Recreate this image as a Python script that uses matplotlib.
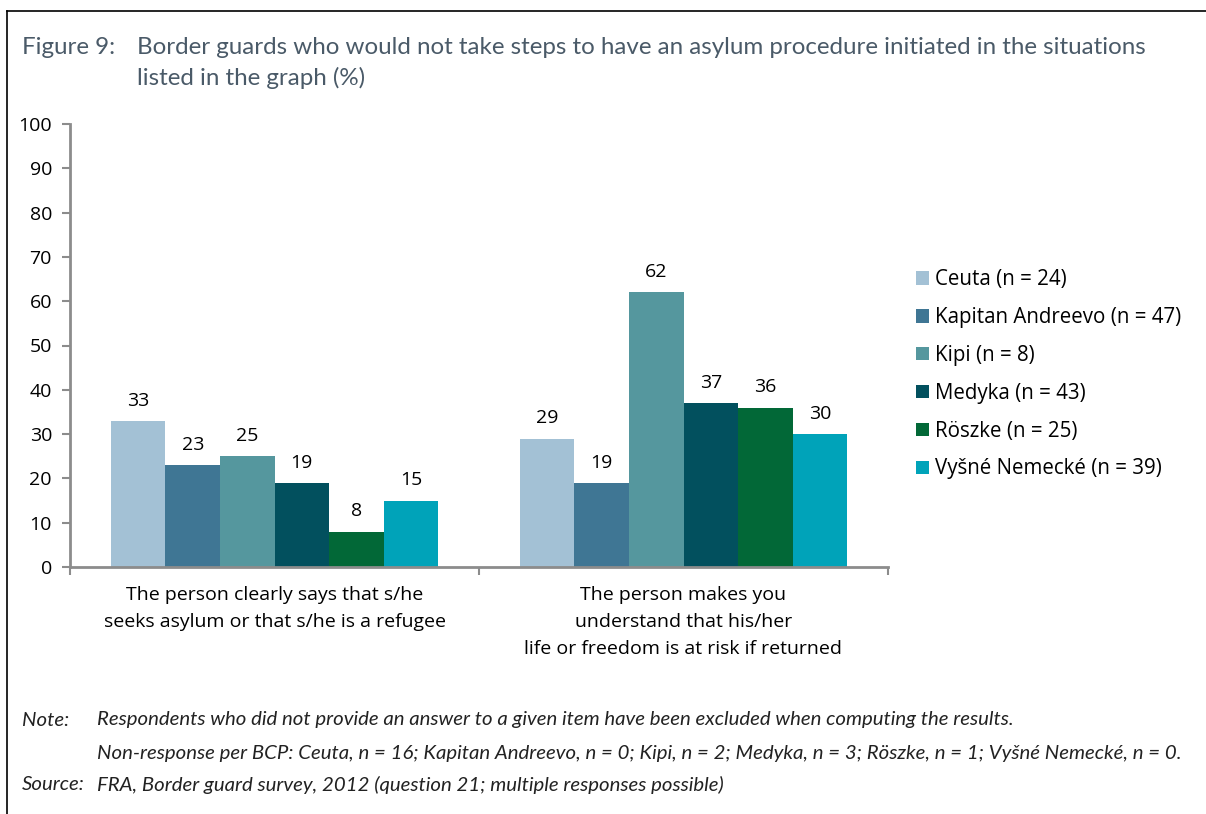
import matplotlib
matplotlib.use("Agg")
import matplotlib.pyplot as plt
import numpy as np
from matplotlib import font_manager

categories = ["The person clearly says that s/he\nseeks asylum or that s/he is a refugee",
              "The person makes you\nunderstand that his/her\nlife or freedom is at risk if returned"]
series_names = ["Ceuta (n = 24)", "Kapitan Andreevo (n = 47)", "Kipi (n = 8)",
                "Medyka (n = 43)", "Röszke (n = 25)", "Vyšné Nemecké (n = 39)"]
ceuta = [33, 29]
kapitan = [23, 19]
kipi = [25, 62]
medyka = [19, 37]
roszke = [8, 36]
vysne = [15, 30]
colors = ["#a3c1d5", "#3f7694", "#55979e", "#02505e", "#026837", "#00a3b9"]
yticks = [0, 10, 20, 30, 40, 50, 60, 70, 80, 90, 100]

names = {f.name for f in font_manager.fontManager.ttflist}
cond = "Liberation Sans Narrow" if "Liberation Sans Narrow" in names else "Lato"
body = "Open Sans"
bsize = 14

W, H = 1206, 814
fig = plt.figure(figsize=(W / 100, H / 100), dpi=100)

def fx(x): return x / W
def fy(y): return 1 - y / H

ax = fig.add_axes([fx(70), fy(567), fx(888) - fx(70), fy(124) - fy(567)])
all_series = [ceuta, kapitan, kipi, medyka, roszke, vysne]
n = len(all_series)
x = np.arange(len(categories))
group_w = 0.8
bw = group_w / n
for i, (vals, c, nm) in enumerate(zip(all_series, colors, series_names)):
    pos = x - group_w / 2 + bw * (i + 0.5)
    ax.bar(pos, vals, width=bw, color=c, label=nm, zorder=2)
    for p, v in zip(pos, vals):
        ax.annotate(str(v), (p, v), xytext=(0, 8), textcoords="offset points",
                    ha="center", va="bottom", fontsize=bsize, family=body, color="black")

ax.set_xlim(-0.5, 1.5)
ax.set_ylim(0, 100)
ax.set_yticks(yticks)
ax.set_yticklabels([str(t) for t in yticks], fontsize=bsize, family=body)
ax.set_xticks([-0.5, 0.5, 1.5])
ax.set_xticklabels([])
ax.tick_params(axis="y", length=6, width=1.5, color="#8c8c8c", pad=7)
ax.tick_params(axis="x", length=6, width=1.5, color="#8c8c8c", direction="out")
for s in ["top", "right"]:
    ax.spines[s].set_visible(False)
for s in ["left", "bottom"]:
    ax.spines[s].set_color("#8c8c8c")
    ax.spines[s].set_linewidth(2)

for xi, lab in zip(x, categories):
    ax.text(xi, -0.043, lab, transform=ax.get_xaxis_transform(), ha="center", va="top",
            fontsize=bsize, family=body, linespacing=1.65)

leg = ax.legend(loc="upper left", bbox_to_anchor=(fx(908), fy(261)),
                bbox_transform=fig.transFigure, frameon=False,
                prop={"family": body, "size": 14.8}, handlelength=0.62, handleheight=0.62,
                handletextpad=0.3, labelspacing=0.82, borderaxespad=0)

# frame
fig.add_artist(plt.Line2D([fx(7), 1], [fy(11), fy(11)], color="black", lw=1.2, transform=fig.transFigure))
fig.add_artist(plt.Line2D([fx(7), fx(7)], [fy(11), 0], color="black", lw=1.2, transform=fig.transFigure))

tcol = "#4a5a68"
tsize = 17.4
fig.text(fx(22), fy(47), "Figure 9:", fontsize=tsize, family=cond, color=tcol, va="center")
fig.text(fx(137), fy(47), "Border guards who would not take steps to have an asylum procedure initiated in the situations",
         fontsize=tsize, family=cond, color=tcol, va="center")
fig.text(fx(137), fy(78), "listed in the graph (%)", fontsize=tsize, family=cond, color=tcol, va="center")

ncol = "#222222"
nsize = 14.7
fig.text(fx(22), fy(720), "Note:", fontsize=nsize, family=cond, style="italic", color=ncol, va="center")
fig.text(fx(97), fy(720), "Respondents who did not provide an answer to a given item have been excluded when computing the results.",
         fontsize=nsize, family=cond, style="italic", color=ncol, va="center")
fig.text(fx(97), fy(753), "Non-response per BCP: Ceuta, n = 16; Kapitan Andreevo, n = 0; Kipi, n = 2; Medyka, n = 3; Röszke, n = 1; Vyšné Nemecké, n = 0.",
         fontsize=nsize, family=cond, style="italic", color=ncol, va="center")
fig.text(fx(22), fy(785), "Source:", fontsize=nsize, family=cond, style="italic", color=ncol, va="center")
fig.text(fx(97), fy(785), "FRA, Border guard survey, 2012 (question 21; multiple responses possible)",
         fontsize=nsize, family=cond, style="italic", color=ncol, va="center")

fig.savefig("out.png", dpi=100)
